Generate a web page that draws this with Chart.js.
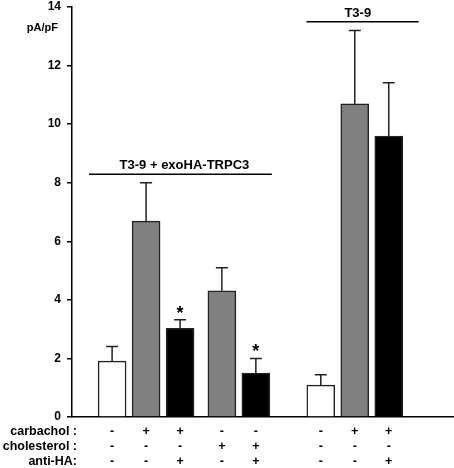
<!DOCTYPE html>
<html>
<head>
<meta charset="utf-8">
<script src="https://cdn.jsdelivr.net/npm/chart.js@4"></script>
<style>
  html, body { margin: 0; padding: 0; background: #fff; }
  #wrap { width: 454px; height: 468px; }
</style>
</head>
<body>
<div id="wrap"><canvas id="chart" width="454" height="468"></canvas></div>
<script>
// data
const rowLabels = ['carbachol :', 'cholesterol :', 'anti-HA:'];
const carbachol = ['-', '+', '+', '-', '-', '-', '+', '+'];
const cholesterol = ['-', '-', '-', '+', '+', '-', '-', '-'];
const antiHA = ['-', '-', '+', '-', '+', '-', '-', '+'];
const cellGroup = [0, 0, 0, 0, 0, 1, 1, 1];
const groupNames = ['T3-9 + exoHA-TRPC3', 'T3-9'];
const current = [1.91, 6.69, 3.03, 4.31, 1.5, 1.09, 10.69, 9.59];
const currentSem = [0.5, 1.31, 0.29, 0.79, 0.5, 0.35, 2.51, 1.82];
const significant = [false, false, true, false, true, false, false, false];
const yTicks = [0, 2, 4, 6, 8, 10, 12, 14];

// layout of bars along x (spacing between the treatment blocks)
const blockOffset = [1.18, 1.18, 1.18, 1.41, 1.41, 2.32, 2.32, 2.32];
const xPos = current.map((v, i) => i + blockOffset[i]);

const fillColor = current.map((v, i) => {
    if (antiHA[i] === '+') return '#000000';
    if (carbachol[i] === '+' || cholesterol[i] === '+') return '#808080';
    return '#ffffff';
});

const FONT = 'Liberation Sans, Arial, sans-serif';

// error bars, stars, brackets and the treatment table
const extras = {
    id: 'extras',
    afterDatasetsDraw(chart) {
        const ctx = chart.ctx;
        const xs = chart.scales.x, ys = chart.scales.y;
        const area = chart.chartArea;
        ctx.save();
        // error bars
        current.forEach((v, i) => {
            const px = xs.getPixelForValue(xPos[i]);
            const y0 = ys.getPixelForValue(v);
            const y1 = ys.getPixelForValue(v + currentSem[i]);
            ctx.strokeStyle = '#222';
            ctx.lineWidth = 1.5;
            ctx.beginPath();
            ctx.moveTo(px, y0);
            ctx.lineTo(px, y1);
            ctx.moveTo(px - 6, y1);
            ctx.lineTo(px + 6, y1);
            ctx.stroke();
            if (significant[i]) {
                ctx.fillStyle = '#000';
                ctx.font = 'bold 18px ' + FONT;
                ctx.textAlign = 'center';
                ctx.textBaseline = 'alphabetic';
                ctx.fillText('*', px, y1 - 1);
            }
        });

        // group brackets
        const brackets = [
            { from: 0.5, to: 5.88, level: 8.29 },
            { from: 6.9, to: 10.2, level: 13.5 }
        ];
        brackets.forEach((b, g) => {
            const x0 = xs.getPixelForValue(b.from);
            const x1 = xs.getPixelForValue(b.to);
            const y = ys.getPixelForValue(b.level);
            ctx.strokeStyle = '#000';
            ctx.lineWidth = 1.5;
            ctx.beginPath();
            ctx.moveTo(x0, y);
            ctx.lineTo(x1, y);
            ctx.stroke();
            ctx.fillStyle = '#000';
            ctx.font = 'bold 13px ' + FONT;
            ctx.textAlign = 'center';
            ctx.textBaseline = 'alphabetic';
            const first = cellGroup.indexOf(g);
            const last = cellGroup.lastIndexOf(g);
            const cx = g === 0 ? (x0 + x1) / 2 + 4 : (xs.getPixelForValue(xPos[first]) + xs.getPixelForValue(xPos[last])) / 2 + 3;
            ctx.fillText(groupNames[g], cx, y - 5);
        });

        // unit label
        ctx.font = 'bold 11px ' + FONT;
        ctx.textAlign = 'right';
        ctx.textBaseline = 'middle';
        ctx.fillText('pA/pF', area.left - 14, ys.getPixelForValue(13.3));

        // treatment table
        const rows = [carbachol, cholesterol, antiHA];
        ctx.font = 'bold 12.5px ' + FONT;
        rows.forEach((row, r) => {
            const y = area.bottom + 14.5 + r * 15;
            ctx.textAlign = 'right';
            ctx.fillText(rowLabels[r], area.left + 5, y);
            ctx.textAlign = 'center';
            row.forEach((s, i) => {
                ctx.fillText(s, xs.getPixelForValue(xPos[i]), y);
            });
        });
        ctx.restore();
    }
};

new Chart(document.getElementById('chart'), {
    type: 'bar',
    data: {
        datasets: [{
            data: current.map((v, i) => ({ x: xPos[i], y: v })),
            backgroundColor: fillColor,
            borderColor: '#222',
            borderWidth: 1.5,
            barThickness: 28
        }]
    },
    options: {
        responsive: false,
        animation: false,
        layout: { padding: 0 },
        plugins: {
            legend: { display: false },
            tooltip: { enabled: false }
        },
        scales: {
            x: {
                type: 'linear',
                offset: false,
                min: 0,
                max: 11.24,
                grid: { display: false },
                ticks: { display: false },
                border: { display: true, color: '#000', width: 1.5 },
                afterFit(scale) { scale.height = 51; }
            },
            y: {
                min: 0,
                max: 14,
                afterBuildTicks(scale) { scale.ticks = yTicks.map(v => ({ value: v })); },
                ticks: {
                    color: '#000',
                    font: { family: FONT, size: 12, weight: 'bold' },
                    padding: 6
                },
                grid: {
                    display: true,
                    drawOnChartArea: false,
                    drawTicks: true,
                    tickLength: 5,
                    color: '#000',
                    lineWidth: 1.5
                },
                border: { display: true, color: '#000', width: 1.5 },
                afterFit(scale) {
                    scale.width = 72;
                    scale.paddingTop = 7;
                    scale.paddingBottom = 0;
                }
            }
        }
    },
    plugins: [extras]
});
</script>
</body>
</html>
